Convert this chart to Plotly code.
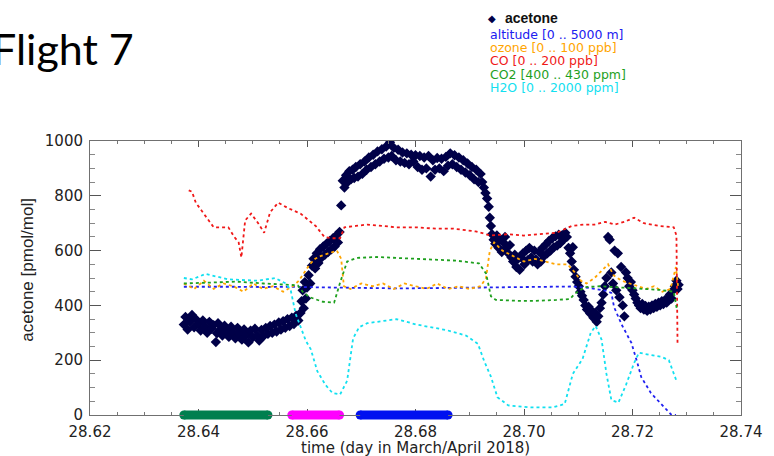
import plotly.graph_objects as go

# ---------------- data ----------------
acetone_t = [
    28.6373, 28.6376, 28.6380, 28.6384, 28.6388, 28.6392, 28.6396, 28.6400, 28.6404, 28.6408,
    28.6412, 28.6416, 28.6420, 28.6424, 28.6428, 28.6432, 28.6434, 28.6436, 28.6440, 28.6444,
    28.6448, 28.6452, 28.6456, 28.6460, 28.6464, 28.6468, 28.6472, 28.6476, 28.6480, 28.6484,
    28.6488, 28.6492, 28.6496, 28.6500, 28.6504, 28.6508, 28.6512, 28.6516, 28.6520, 28.6524,
    28.6528, 28.6532, 28.6536, 28.6540, 28.6544, 28.6548, 28.6552, 28.6556, 28.6560, 28.6564,
    28.6568, 28.6572, 28.6576, 28.6580, 28.6584, 28.6588, 28.6590, 28.6592, 28.6594, 28.6596,
    28.6598, 28.6600, 28.6603, 28.6606, 28.6609, 28.6612, 28.6615, 28.6618, 28.6621, 28.6624,
    28.6627, 28.6630, 28.6633, 28.6636, 28.6639, 28.6642, 28.6645, 28.6648, 28.6651, 28.6654,
    28.6657, 28.6660, 28.6663, 28.6666, 28.6669, 28.6672, 28.6675, 28.6678, 28.6681, 28.6684,
    28.6687, 28.6690, 28.6694, 28.6698, 28.6702, 28.6706, 28.6710, 28.6714, 28.6718, 28.6722,
    28.6726, 28.6730, 28.6734, 28.6738, 28.6742, 28.6746, 28.6750, 28.6753, 28.6756, 28.6760,
    28.6764, 28.6768, 28.6772, 28.6776, 28.6780, 28.6784, 28.6788, 28.6792, 28.6796, 28.6800,
    28.6804, 28.6808, 28.6812, 28.6816, 28.6820, 28.6824, 28.6828, 28.6832, 28.6836, 28.6840,
    28.6844, 28.6848, 28.6852, 28.6856, 28.6860, 28.6864, 28.6868, 28.6872, 28.6876, 28.6880,
    28.6884, 28.6888, 28.6892, 28.6896, 28.6900, 28.6904, 28.6908, 28.6912, 28.6916, 28.6920,
    28.6923, 28.6926, 28.6929, 28.6932, 28.6935, 28.6937, 28.6939, 28.6941, 28.6944, 28.6947,
    28.6950, 28.6953, 28.6956, 28.6959, 28.6962, 28.6965, 28.6968, 28.6971, 28.6974, 28.6977,
    28.6980, 28.6983, 28.6986, 28.6989, 28.6992, 28.6995, 28.6998, 28.7001, 28.7004, 28.7007,
    28.7010, 28.7013, 28.7016, 28.7019, 28.7022, 28.7025, 28.7028, 28.7031, 28.7034, 28.7037,
    28.7040, 28.7043, 28.7046, 28.7049, 28.7052, 28.7055, 28.7058, 28.7061, 28.7064, 28.7067,
    28.7070, 28.7073, 28.7076, 28.7079, 28.7082, 28.7085, 28.7088, 28.7090, 28.7092, 28.7095,
    28.7098, 28.7101, 28.7104, 28.7107, 28.7110, 28.7113, 28.7116, 28.7119, 28.7122, 28.7125,
    28.7128, 28.7131, 28.7134, 28.7137, 28.7140, 28.7143, 28.7146, 28.7149, 28.7152, 28.7155,
    28.7158, 28.7161, 28.7164, 28.7167, 28.7170, 28.7173, 28.7176, 28.7179, 28.7182, 28.7185,
    28.7188, 28.7191, 28.7194, 28.7197, 28.7200, 28.7203, 28.7206, 28.7209, 28.7212, 28.7215,
    28.7218, 28.7221, 28.7224, 28.7227, 28.7230, 28.7233, 28.7236, 28.7239, 28.7242, 28.7245,
    28.7248, 28.7251, 28.7254, 28.7257, 28.7260, 28.7263, 28.7266, 28.7269, 28.7272, 28.7275,
    28.7278, 28.7281, 28.7283, 28.7285,
]
acetone_ppt = [
    330, 358, 312, 340, 365, 320, 348, 332, 308, 345,
    322, 300, 340, 315, 328, 266, 298, 335, 312, 290,
    326, 305, 285, 322, 300, 280, 318, 296, 275, 312,
    292, 265, 308, 284, 315, 290, 272, 310, 288, 318,
    296, 325, 300, 330, 305, 338, 312, 342, 318, 350,
    325, 355, 332, 362, 345, 372, 415, 455, 390, 485,
    425, 465, 510, 480, 545, 570, 535, 590, 555, 605,
    575, 615, 585, 625, 595, 635, 605, 645, 615, 655,
    630, 668, 765, 855, 830, 875, 850, 890, 860, 895,
    865, 905, 870, 915, 880, 925, 895, 940, 905, 950,
    915, 962, 925, 970, 935, 980, 940, 995, 945, 975,
    930, 968, 925, 958, 920, 955, 915, 950, 925, 948,
    905, 945, 895, 940, 900, 945, 870, 930, 895, 938,
    900, 935, 890, 942, 910, 955, 915, 948, 905, 940,
    895, 930, 885, 918, 875, 905, 860, 895, 850, 880,
    850, 830, 810, 790, 760, 720, 690, 660, 640, 625,
    655, 610, 640, 595, 630, 650, 612, 590, 620, 575,
    560, 585, 540, 570, 530, 575, 590, 550, 600, 565,
    610, 575, 560, 600, 568, 550, 595, 560, 610, 580,
    622, 590, 635, 600, 645, 612, 652, 618, 658, 628,
    655, 640, 665, 650, 610, 590, 560, 612, 530, 505,
    485, 470, 450, 435, 420, 400, 385, 395, 370, 380,
    355, 372, 340, 360, 390, 410, 440, 470, 500, 650,
    640, 520, 480, 600, 455, 590, 430, 540, 400, 360,
    520, 500, 470, 485, 455, 440, 425, 410, 400, 390,
    405, 385, 398, 380, 395, 385, 400, 390, 405, 395,
    410, 400, 415, 405, 420, 410, 428, 440, 425, 455,
    470, 490, 460, 475,
]

alt_t = [28.6373, 28.6420, 28.6470, 28.6520, 28.6570, 28.6620, 28.6670, 28.6720, 28.6770, 28.6820,
         28.6870, 28.6920, 28.6970, 28.7020, 28.7070, 28.7090, 28.7120, 28.7150, 28.7161, 28.7166,
         28.7180, 28.7198, 28.7209, 28.7216, 28.7234, 28.7258, 28.7271, 28.7280]
alt_m = [2340, 2345, 2340, 2335, 2340, 2330, 2320, 2310, 2310, 2315,
         2320, 2325, 2335, 2340, 2345, 2345, 2320, 2270, 2230, 1970,
         1650, 1315, 950, 695, 400, 145, 10, 0]

oz_t = [28.6373, 28.6392, 28.6410, 28.6428, 28.6446, 28.6464, 28.6483, 28.6501, 28.6519, 28.6537,
        28.6556, 28.6574, 28.6585, 28.6595, 28.6605, 28.6615, 28.6625, 28.6640, 28.6655, 28.6663,
        28.6668, 28.6680, 28.6700, 28.6720, 28.6740, 28.6760, 28.6780, 28.6800, 28.6820, 28.6840,
        28.6860, 28.6880, 28.6900, 28.6920, 28.6930, 28.6937, 28.6945, 28.6960, 28.6980, 28.7000,
        28.7020, 28.7040, 28.7060, 28.7080, 28.7094, 28.7105, 28.7115, 28.7130, 28.7145, 28.7155,
        28.7165, 28.7180, 28.7195, 28.7210, 28.7225, 28.7240, 28.7255, 28.7270, 28.7280, 28.7284]
oz_ppb = [48, 46, 49, 46, 48, 47, 45, 48, 46, 47,
          45, 47, 49, 52, 55, 57, 58, 59, 60, 57,
          47, 46, 48, 47, 48, 46, 48, 47, 46, 48,
          46, 47, 46, 47, 50, 60, 63, 60, 58, 56,
          57, 56, 55, 55, 52, 49, 48, 50, 53, 55,
          51, 49, 48, 47, 46, 47, 45, 46, 54, 47]

co_t = [28.6382, 28.6388, 28.6395, 28.6406, 28.6419, 28.6428, 28.6440, 28.6455, 28.6466, 28.6474,
        28.6479, 28.6486, 28.6497, 28.6510, 28.6521, 28.6532, 28.6547, 28.6565, 28.6588, 28.6601,
        28.6616, 28.6632, 28.6645, 28.6661, 28.6669, 28.6690, 28.6711, 28.6740, 28.6765, 28.6800,
        28.6838, 28.6870, 28.6911, 28.6939, 28.6971, 28.7000, 28.7030, 28.7060, 28.7088, 28.7110,
        28.7130, 28.7150, 28.7167, 28.7185, 28.7203, 28.7221, 28.7249, 28.7276, 28.7281, 28.7283]
co_ppb = [164, 163, 155, 149, 142, 137, 137, 137, 130, 126,
          115, 142, 147, 140, 133, 148, 155, 151, 147, 143,
          138, 130, 129, 129, 137, 138, 139, 138, 137, 137,
          136, 136, 134, 131, 132, 131, 132, 133, 138, 139,
          139, 141, 139, 141, 144, 140, 138, 137, 131, 52]

co2_t = [28.6373, 28.6420, 28.6470, 28.6520, 28.6560, 28.6583, 28.6592, 28.6605, 28.6629, 28.6650,
         28.6661, 28.6674, 28.6692, 28.6729, 28.6765, 28.6802, 28.6840, 28.6875, 28.6917, 28.6930,
         28.6939, 28.6948, 28.6990, 28.7021, 28.7060, 28.7085, 28.7094, 28.7112, 28.7140, 28.7167,
         28.7195, 28.7221, 28.7250, 28.7276, 28.7282]
co2_ppm = [414.4, 414.5, 414.6, 414.4, 414.3, 414.2, 413.5, 412.9, 412.4, 412.3,
           414.5, 416.8, 417.2, 417.3, 417.2, 417.1, 417.0, 416.9, 416.6, 415.5,
           413.0, 412.6, 412.5, 412.5, 412.6, 412.7, 413.3, 414.0, 414.1, 414.0,
           413.9, 413.8, 413.7, 413.5, 411.5]

h2o_t = [28.6373, 28.6388, 28.6413, 28.6455, 28.6510, 28.6541, 28.6561, 28.6570, 28.6579, 28.6588,
         28.6598, 28.6607, 28.6619, 28.6634, 28.6647, 28.6661, 28.6674, 28.6685, 28.6696, 28.6711,
         28.6765, 28.6802, 28.6857, 28.6893, 28.6915, 28.6926, 28.6939, 28.6951, 28.6971, 28.7012,
         28.7052, 28.7075, 28.7090, 28.7108, 28.7123, 28.7132, 28.7143, 28.7152, 28.7161, 28.7174,
         28.7188, 28.7203, 28.7212, 28.7230, 28.7254, 28.7267, 28.7276, 28.7281]
h2o_ppm = [1000, 990, 1030, 990, 980, 1000, 960, 910, 740, 640,
           540, 480, 320, 220, 160, 150, 250, 560, 640, 670,
           700, 660, 620, 580, 520, 400, 280, 130, 70, 56,
           55, 80, 300, 410, 600, 650, 550, 300, 110, 90,
           220, 380, 455, 440, 424, 400, 300, 250]

leg_start = [28.6373, 28.6572, 28.6698]
leg_end = [28.6528, 28.6660, 28.6860]
leg_colors = ["#007f4f", "#ff00ff", "#0010f0"]

x_ticks = [28.62, 28.64, 28.66, 28.68, 28.70, 28.72, 28.74]

legend_lines = ["altitude [0 .. 5000 m]", "ozone [0 .. 100 ppb]", "CO [0 .. 200 ppb]",
                "CO2 [400 .. 430 ppm]", "H2O [0 .. 2000 ppm]"]

# ---------------- styles ----------------
C_ACE = "#000048"
C_ALT = "#2020f0"
C_OZ = "#ffa500"
C_CO = "#f01818"
C_CO2 = "#1ea01e"
C_H2O = "#12e0f0"
legend_colors = [C_ALT, C_OZ, C_CO, C_CO2, C_H2O]

fig = go.Figure()

fig.add_trace(go.Scatter(x=acetone_t, y=acetone_ppt, mode="markers", yaxis="y",
                         marker=dict(symbol="diamond", size=8, color=C_ACE, line=dict(width=0))))

def dotted(x, y, color, axis):
    fig.add_trace(go.Scatter(x=x, y=y, mode="lines", yaxis=axis,
                             line=dict(color=color, width=1.8, dash="dot")))

dotted(h2o_t, h2o_ppm, C_H2O, "y6")
dotted(co2_t, co2_ppm, C_CO2, "y5")
dotted(co_t, co_ppb, C_CO, "y4")
dotted(oz_t, oz_ppb, C_OZ, "y3")
dotted(alt_t, alt_m, C_ALT, "y2")

# flight-leg bars on the time axis
bar_half = 4.5 / 274.0
for s, e, c in zip(leg_start, leg_end, leg_colors):
    fig.add_shape(type="rect", xref="x", yref="paper", x0=s, x1=e, y0=-bar_half, y1=bar_half,
                  fillcolor=c, line=dict(width=0), layer="above")
    fig.add_trace(go.Scatter(x=[s, e], y=[0, 0], mode="markers", yaxis="y", cliponaxis=False,
                             marker=dict(symbol="circle", size=9, color=c, line=dict(width=0))))

axis_common = dict(showgrid=False, zeroline=False, showline=True, linecolor="#707070", linewidth=1,
                   mirror="ticks", ticks="inside", tickcolor="#555555",
                   tickfont=dict(family="DejaVu Sans", size=15, color="#222222"))

fig.update_layout(
    width=774, height=456,
    margin=dict(l=90, r=25, t=141, b=41),
    plot_bgcolor="white", paper_bgcolor="white",
    showlegend=False,
    xaxis=dict(range=[28.62, 28.74], tickvals=x_ticks, ticktext=["%.2f" % v for v in x_ticks],
               ticklen=6, ticklabelstandoff=3,
               minor=dict(dtick=0.005, tick0=28.62, ticks="inside", ticklen=3, tickcolor="#777777"),
               **axis_common),
    yaxis=dict(range=[0, 1000], dtick=200, ticklen=11, ticklabelstandoff=3,
               minor=dict(dtick=50, ticks="inside", ticklen=5, tickcolor="#888888"),
               **axis_common),
    yaxis2=dict(overlaying="y", range=[0, 5000], visible=False),
    yaxis3=dict(overlaying="y", range=[0, 100], visible=False),
    yaxis4=dict(overlaying="y", range=[0, 200], visible=False),
    yaxis5=dict(overlaying="y", range=[400, 430], visible=False),
    yaxis6=dict(overlaying="y", range=[0, 2000], visible=False),
)

def px_x(p):
    return (p - 90) / 658.0

def px_y(p):
    return (415 - p) / 274.0

ann = []
ann.append(dict(text="Flight 7", xref="paper", yref="paper", x=px_x(136), y=px_y(48),
                xanchor="right", yanchor="middle", showarrow=False,
                font=dict(family="Lato", size=43, color="#000000")))
ann.append(dict(text="time (day in March/April 2018)", xref="paper", yref="paper",
                x=0.5, y=px_y(448), xanchor="center", yanchor="middle", showarrow=False,
                font=dict(family="DejaVu Sans", size=15, color="#222222")))
ann.append(dict(text="acetone [pmol/mol]", xref="paper", yref="paper", textangle=-90,
                x=px_x(26), y=px_y(270), xanchor="center", yanchor="middle", showarrow=False,
                font=dict(family="Liberation Sans", size=17, color="#222222")))
ann.append(dict(text="◆", xref="paper", yref="paper", x=px_x(496), y=px_y(18),
                xanchor="center", yanchor="middle", showarrow=False,
                font=dict(family="DejaVu Sans", size=10, color=C_ACE)))
ann.append(dict(text="<b>acetone</b>", xref="paper", yref="paper", x=px_x(507), y=px_y(18),
                xanchor="left", yanchor="middle", showarrow=False,
                font=dict(family="Liberation Sans", size=14, color="#111111")))
legend_y = [34.3, 47.6, 60.9, 74.2, 87.5]
for txt, col, yy in zip(legend_lines, legend_colors, legend_y):
    ann.append(dict(text=txt, xref="paper", yref="paper", x=px_x(492), y=px_y(yy),
                    xanchor="left", yanchor="middle", showarrow=False,
                    font=dict(family="DejaVu Sans", size=12.5, color=col)))
fig.update_layout(annotations=ann)

fig.write_html("out.html")
